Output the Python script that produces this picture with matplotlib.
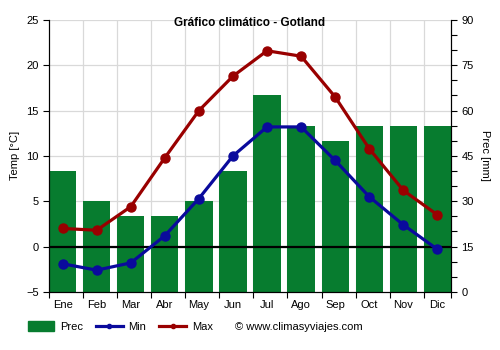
import matplotlib
matplotlib.use("Agg")
import matplotlib.pyplot as plt
from matplotlib.lines import Line2D
from matplotlib.patches import Patch
import numpy as np

plt.rcParams['font.family'] = ['Liberation Sans', 'DejaVu Sans']

months = ["Ene", "Feb", "Mar", "Abr", "May", "Jun", "Jul", "Ago", "Sep", "Oct", "Nov", "Dic"]
prec = [40, 30, 25, 25, 30, 40, 65, 55, 50, 55, 55, 55]
tmin = [-1.9, -2.6, -1.8, 1.2, 5.3, 10.0, 13.2, 13.2, 9.5, 5.5, 2.4, -0.3]
tmax = [2.0, 1.8, 4.4, 9.8, 15.0, 18.8, 21.6, 21.0, 16.5, 10.8, 6.2, 3.5]

green = "#077c2f"
red = "#990000"
blue = "#0a0a9c"

fig = plt.figure(figsize=(5, 3.5), dpi=100)
ax = fig.add_axes([0.098, 0.166, 0.804, 0.777])
ax2 = ax.twinx()

x = np.arange(len(months))

# bars on right axis
ax2.bar(x, prec, width=0.8, color=green, zorder=2)
ax2.set_ylim(0, 90)
ax2.set_yticks(np.arange(0, 91, 15))
ax2.set_yticks(np.arange(0, 91, 5), minor=True)
ax2.set_ylabel("Prec [mm]", fontsize=8, rotation=270, labelpad=12)
ax2.tick_params(axis='y', labelsize=8, length=4, width=0.8, which='both')
# grid on bar axis
for yv in np.arange(15, 91, 15):
    ax2.axhline(yv, color="#d9d9d9", lw=0.9, zorder=0)
for xv in np.arange(0.6, 11, 1.0):
    ax2.axvline(xv, color="#d9d9d9", lw=0.9, zorder=0)

# lines on left axis
ax.set_zorder(ax2.get_zorder() + 1)
ax.patch.set_visible(False)
ax.axhline(0, color="black", lw=1.6, zorder=3)
ax.plot(x, tmin, color=blue, lw=2.3, marker='o', ms=6.5, zorder=4)
ax.plot(x, tmax, color=red, lw=2.3, marker='o', ms=6.5, zorder=4)
ax.set_ylim(-5, 25)
ax.set_yticks(np.arange(-5, 26, 5))
ax.set_xlim(-0.4, 11.4)
ax.set_xticks(x)
ax.set_xticklabels(months, fontsize=8)
ax.set_xticks(np.concatenate(([-0.4], np.arange(0.6, 11, 1.0), [11.4])), minor=True)
ax.tick_params(axis='x', which='major', length=0, pad=6)
ax.tick_params(axis='x', which='minor', length=4, width=0.8)
ax.tick_params(axis='y', labelsize=8, length=4, width=0.8)
ax.set_ylabel("Temp [°C]", fontsize=8)

for a in (ax, ax2):
    a.spines['top'].set_visible(False)
    for s in ('left', 'right', 'bottom'):
        a.spines[s].set_linewidth(0.8)

ax.set_title("Gráfico climático - Gotland", fontsize=8.5, fontweight='bold', pad=-4, y=1.0)

handles = [
    Patch(facecolor=green, edgecolor=green),
    Line2D([0], [0], color=blue, lw=2.3, marker='o', ms=3),
    Line2D([0], [0], color=red, lw=2.3, marker='o', ms=3),
]
fig.legend(handles, ["Prec", "Min", "Max"], loc='center left',
           bbox_to_anchor=(0.035, 0.067), ncol=3, frameon=False,
           fontsize=8, handlelength=2.4, handleheight=0.9, columnspacing=1.2,
           handletextpad=0.5)
fig.text(0.47, 0.067, "© www.climasyviajes.com", fontsize=8, va='center', ha='left')

fig.savefig("out.png", dpi=100)
